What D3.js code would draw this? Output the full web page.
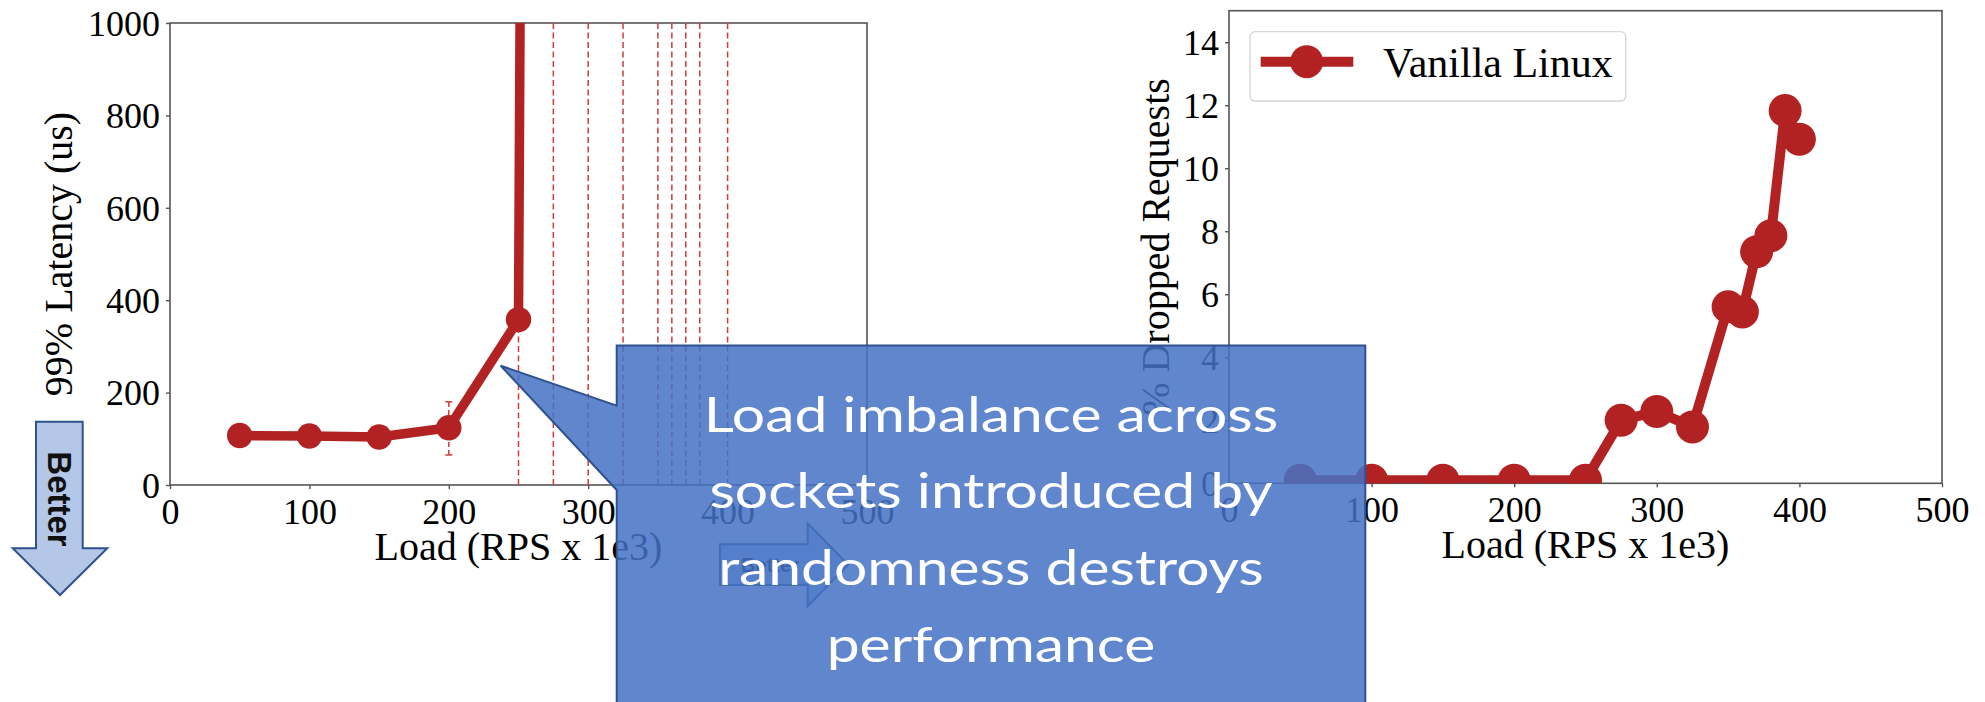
<!DOCTYPE html>
<html>
<head>
<meta charset="utf-8">
<script src="https://cdn.jsdelivr.net/npm/d3@7/dist/d3.min.js"></script>
<style>
  body { margin: 0; background: #fff; }
  svg { display: block; }
</style>
</head>
<body>
<svg id="fig" width="1985" height="702"></svg>
<script>
// ---- data ----
const xTicks = [0, 100, 200, 300, 400, 500];
const latencyTicks = [0, 200, 400, 600, 800, 1000];
const dropTicks = [0, 2, 4, 6, 8, 10, 12, 14];

// 99th percentile latency (us); beyond 250 the latency is far off the scale
const latencyLoads = [50, 100, 150, 200, 250, 275];
const latencyP99 = [107, 106, 104, 124, 358, 15000];
const errLoads = [200];
const errLow = [65];
const errHigh = [180];
// loads where the system saturated
const saturatedLoads = [250, 275, 300, 325, 350, 360, 370, 380, 400];

// dropped requests (%)
const dropLoads = [50, 100, 150, 200, 250, 275, 300, 325, 350, 360, 370, 380, 390, 400];
const dropPct = [0.1, 0.1, 0.1, 0.1, 0.1, 2.0, 2.28, 1.79, 5.6, 5.44, 7.35, 7.86, 11.83, 10.92];

const seriesName = "Vanilla Linux";
const xLabel = "Load (RPS x 1e3)";
const latencyLabel = "99% Latency (us)";
const dropLabel = "% Dropped Requests";
const betterLabel = "Better";
const calloutLines = ["Load imbalance across", "sockets introduced by", "randomness destroys", "performance"];

// ---- style ----
const RED = "#b22222";
const DASH_RED = "#d23a3a";
const SPINE = "#555";
const SERIF = "'Liberation Serif', 'Times New Roman', serif";
const OFFICE_BLUE = "#4472c4";
const OFFICE_DARK = "#2f528f";
const OFFICE_LIGHT = "#b4c7e7";

const svg = d3.select("#fig");
const defs = svg.append("defs");

function panel(cfg) {
  const g = svg.append("g");
  const x = d3.scaleLinear().domain([0, 500]).range([cfg.x0, cfg.x1]);
  const y = d3.scaleLinear().domain(cfg.yDomain).range([cfg.y0, cfg.y1]);

  defs.append("clipPath").attr("id", cfg.id)
    .append("rect")
    .attr("x", cfg.x0).attr("y", cfg.y1)
    .attr("width", cfg.x1 - cfg.x0).attr("height", cfg.y0 - cfg.y1);

  // axes
  const ax = g.append("g").attr("transform", `translate(0,${cfg.y0})`)
    .call(d3.axisBottom(x).tickValues(xTicks).tickSize(4).tickPadding(7).tickFormat(d3.format("d")));
  const ay = g.append("g").attr("transform", `translate(${cfg.x0},0)`)
    .call(d3.axisLeft(y).tickValues(cfg.yTicks).tickSize(4).tickPadding(6).tickFormat(d3.format("d")));
  [ax, ay].forEach(a => {
    a.select(".domain").remove();
    a.selectAll(".tick line").attr("stroke", SPINE).attr("stroke-width", 1.4);
    a.selectAll(".tick text").attr("fill", "#000")
      .style("font-family", SERIF).style("font-size", "36px");
  });
  ax.selectAll(".tick text").attr("dy", "0.78em");
  ay.selectAll(".tick text").attr("dy", "0.34em");

  // frame
  g.append("rect")
    .attr("x", cfg.x0).attr("y", cfg.y1)
    .attr("width", cfg.x1 - cfg.x0).attr("height", cfg.y0 - cfg.y1)
    .attr("fill", "none").attr("stroke", SPINE).attr("stroke-width", 1.6);

  // axis labels
  g.append("text")
    .attr("x", (cfg.x0 + cfg.x1) / 2).attr("y", cfg.y0 + 75)
    .attr("text-anchor", "middle")
    .style("font-family", SERIF).style("font-size", "40px")
    .text(xLabel);
  g.append("text")
    .attr("transform", `translate(${cfg.yLabelX},${(cfg.y0 + cfg.y1) / 2}) rotate(-90)`)
    .attr("text-anchor", "middle")
    .style("font-family", SERIF).style("font-size", "40px")
    .text(cfg.yLabel);

  const plot = g.append("g").attr("clip-path", `url(#${cfg.id})`);
  return { g, plot, x, y };
}

// ---- left: tail latency ----
const L = panel({
  id: "clipL", x0: 170, x1: 867, y0: 485, y1: 23,
  yDomain: [0, 1000], yTicks: latencyTicks, yLabel: latencyLabel, yLabelX: 72
});

L.plot.selectAll("line.sat").data(saturatedLoads).join("line")
  .attr("class", "sat")
  .attr("x1", d => L.x(d)).attr("x2", d => L.x(d))
  .attr("y1", L.y(0)).attr("y2", L.y(1000))
  .attr("stroke", DASH_RED).attr("stroke-width", 1.5)
  .attr("stroke-dasharray", "6,3.5");

const latPts = latencyLoads.map((d, i) => [d, latencyP99[i]]);
L.plot.append("path")
  .datum(latPts)
  .attr("d", d3.line().x(d => L.x(d[0])).y(d => L.y(d[1])))
  .attr("fill", "none").attr("stroke", RED).attr("stroke-width", 9.5)
  .attr("stroke-linejoin", "round");

// error bars
errLoads.forEach((d, i) => {
  const eg = L.plot.append("g");
  eg.append("line")
    .attr("x1", L.x(d)).attr("x2", L.x(d))
    .attr("y1", L.y(errLow[i])).attr("y2", L.y(errHigh[i]))
    .attr("stroke", DASH_RED).attr("stroke-width", 1.5).attr("stroke-dasharray", "5,3");
  [errLow[i], errHigh[i]].forEach(v => {
    eg.append("line")
      .attr("x1", L.x(d) - 3.5).attr("x2", L.x(d) + 3.5)
      .attr("y1", L.y(v)).attr("y2", L.y(v))
      .attr("stroke", DASH_RED).attr("stroke-width", 1.5);
  });
});

L.plot.selectAll("circle").data(latPts).join("circle")
  .attr("cx", d => L.x(d[0])).attr("cy", d => L.y(d[1]))
  .attr("r", 12.7).attr("fill", RED);

// ---- right: dropped requests ----
const R = panel({
  id: "clipR", x0: 1229, x1: 1942, y0: 483.3, y1: 10.7,
  yDomain: [0, 15], yTicks: dropTicks, yLabel: dropLabel, yLabelX: 1169
});

const dropPts = dropLoads.map((d, i) => [d, dropPct[i]]);
R.plot.append("path")
  .datum(dropPts)
  .attr("d", d3.line().x(d => R.x(d[0])).y(d => R.y(d[1])))
  .attr("fill", "none").attr("stroke", RED).attr("stroke-width", 10)
  .attr("stroke-linejoin", "round");
R.plot.selectAll("circle").data(dropPts).join("circle")
  .attr("cx", d => R.x(d[0])).attr("cy", d => R.y(d[1]))
  .attr("r", 16.5).attr("fill", RED);

// legend
const lg = svg.append("g");
lg.append("rect")
  .attr("x", 1250).attr("y", 31.7).attr("width", 375.7).attr("height", 69.3)
  .attr("rx", 5).attr("fill", "#fff").attr("stroke", "#d6d6d6").attr("stroke-width", 1.3);
lg.append("line")
  .attr("x1", 1260.7).attr("x2", 1353.3).attr("y1", 61.7).attr("y2", 61.7)
  .attr("stroke", RED).attr("stroke-width", 10);
lg.append("circle").attr("cx", 1306.7).attr("cy", 61.7).attr("r", 16.5).attr("fill", RED);
lg.append("text")
  .attr("x", 1383).attr("y", 77.3)
  .style("font-family", SERIF).style("font-size", "42px")
  .text(seriesName);

// ---- "Better" arrows ----
function downArrow(g) {
  const pts = [[36, 421.7], [82.7, 421.7], [82.7, 548.3], [107.3, 548.3],
               [60, 595], [12.7, 548.3], [36, 548.3]];
  g.append("polygon").attr("points", pts.map(p => p.join(",")).join(" "))
    .attr("fill", OFFICE_LIGHT).attr("stroke", OFFICE_DARK).attr("stroke-width", 2);
  g.append("text")
    .attr("transform", "translate(48,499) rotate(90)")
    .attr("text-anchor", "middle")
    .style("font-family", "'Liberation Sans', Arial, sans-serif")
    .style("font-size", "33px").style("font-weight", "bold").attr("fill", "#111")
    .text(betterLabel);
}
downArrow(svg.append("g"));

function rightArrow(g) {
  const pts = [[720, 544.3], [807.7, 544.3], [807.7, 523.3], [848.3, 564.7],
               [807.7, 606], [807.7, 585], [720, 585]];
  g.append("polygon").attr("points", pts.map(p => p.join(",")).join(" "))
    .attr("fill", OFFICE_LIGHT).attr("stroke", OFFICE_DARK).attr("stroke-width", 2);
  g.append("text")
    .attr("x", 770).attr("y", 572)
    .attr("text-anchor", "middle")
    .style("font-family", "'Liberation Sans', Arial, sans-serif")
    .style("font-size", "20px").style("font-weight", "bold").attr("fill", "#111")
    .text(betterLabel);
}
rightArrow(svg.append("g"));

// ---- callout ----
const co = svg.append("g");
const coPts = [[616.7, 345.5], [1365.3, 345.5], [1365.3, 712], [616.7, 712],
               [616.7, 490], [500.7, 365.7], [616.7, 405.7]];
co.append("polygon").attr("points", coPts.map(p => p.join(",")).join(" "))
  .attr("fill", OFFICE_BLUE).attr("fill-opacity", 0.85)
  .attr("stroke", OFFICE_DARK).attr("stroke-width", 2);
// wide geometric lettering: widen the glyphs horizontally around the centre line
const coText = co.append("g").attr("transform", "translate(991,0) scale(1.2,1)");
coText.selectAll("text").data(calloutLines).join("text")
  .attr("x", 0).attr("y", (d, i) => 431.7 + i * 76.7)
  .attr("text-anchor", "middle")
  .style("font-family", "Lato, 'Open Sans', sans-serif")
  .style("font-size", "49px").attr("fill", "#fff")
  .text(d => d);
</script>
</body>
</html>
